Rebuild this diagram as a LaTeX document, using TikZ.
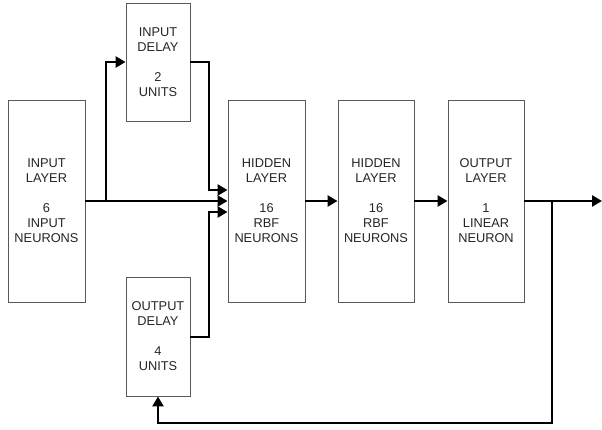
\documentclass[tikz,border=0pt]{standalone}
\usepackage{fontspec}
\setmainfont{Liberation Sans}
\usetikzlibrary{arrows.meta}
\begin{document}
\begin{tikzpicture}[x=1pt,y=1pt,
  blk/.style={draw=black!65,line width=0.9pt,fill=white,inner sep=0pt,align=center,
    text=black!85,font=\fontsize{12.8}{15}\selectfont},
  big/.style={blk,minimum width=77pt,minimum height=202pt},
  dly/.style={blk,minimum width=64pt,minimum height=118pt},
  conn/.style={line width=2.8pt,-{Triangle[length=10pt,width=11pt]}},
  plain/.style={line width=2.8pt}]
\useasboundingbox (0,0) rectangle (602,430);
\node[big] (in) at (46.5,229) {INPUT\\LAYER\\[15pt]6\\INPUT\\NEURONS};
\node[dly] (idl) at (158,368) {INPUT\\DELAY\\[15pt]2\\UNITS};
\node[dly,minimum height=119pt] (odl) at (158,93.5) {OUTPUT\\DELAY\\[15pt]4\\UNITS};
\node[big] (h1) at (266.5,229) {HIDDEN\\LAYER\\[15pt]16\\RBF\\NEURONS};
\node[big,minimum width=76pt] (h2) at (376,229) {HIDDEN\\LAYER\\[15pt]16\\RBF\\NEURONS};
\node[big,minimum width=76pt] (out) at (486,229) {OUTPUT\\LAYER\\[15pt]1\\LINEAR\\NEURON};
\coordinate (br) at (106,229);
\coordinate (fb) at (552,229);
\coordinate (end) at (602,229);
\draw[conn] (in.east) -- (h1.west);
\draw[conn] (br) |- (idl.west);
\draw[conn] (idl.east) -- (209,368) |- ([yshift=11pt]h1.west);
\draw[conn] (odl.east |- 0,93) -- (209,93) |- ([yshift=-11pt]h1.west);
\draw[conn] (h1.east) -- (h2.west);
\draw[conn] (h2.east) -- (out.west);
\draw[conn] (out.east) -- (end);
\draw[conn] (fb) -- (552,7) -| (odl.south);
\end{tikzpicture}
\end{document}
